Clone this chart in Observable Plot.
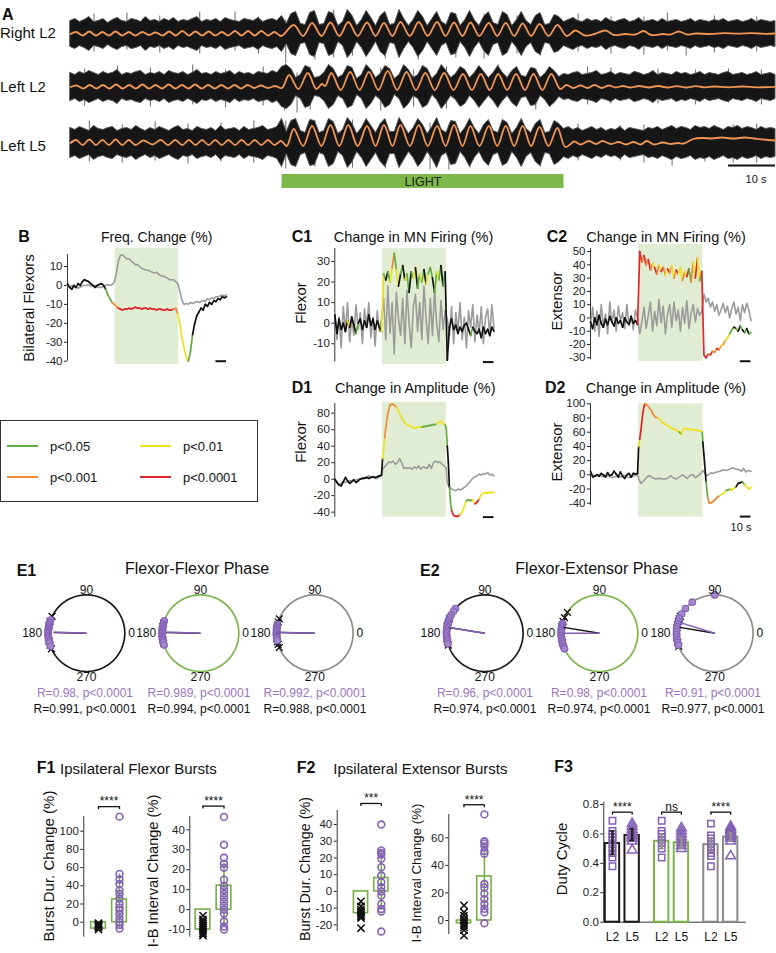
<!DOCTYPE html>
<html><head><meta charset="utf-8">
<script src="https://cdn.jsdelivr.net/npm/d3@7"></script>
<script src="https://cdn.jsdelivr.net/npm/@observablehq/plot@0.6"></script>
<style>
body{margin:0;background:#fff;font-family:"Liberation Sans",Arial,sans-serif;}
#fig{position:relative;width:776px;height:953px;overflow:hidden;background:#fff;}
</style></head>
<body><div id="fig"></div>
<script>
// ---------------- DATA ----------------
const LIGHT = [45, 105];                // light-on interval (s)
const SIG_KEYS = ["n","a","b","c","d"];  // ns, p<0.05, p<0.01, p<0.001, p<0.0001
const SIG_COLORS = ["#111111","#5fad3e","#efe11f","#f08b3a","#e2262b"];
const SIG_LABELS = ["p<0.05","p<0.01","p<0.001","p<0.0001"];
const TRACE_NAMES = ["Right L2","Left L2","Left L5"];

// Panel A: EMG envelope half-widths (1 s samples) and filtered rhythm extrema [t, value]
const rightL2Env = [13,15,12,14,17,12,13,15,11,14,16,13,12,15,14,12,17,13,14,12,15,13,16,12,14,13,15,17,12,14,13,15,12,16,14,13,12,15,14,13,16,12,14,15,13,
 18,
 10,20,22,10,9,21,23,9,10,22,20,8,12,24,18,8,14,23,16,8,18,22,9,10,24,15,8,14,23,17,8,15,22,12,9,21,20,8,14,23,14,8,17,22,11,9,22,19,8,14,22,13,9,18,21,9,10,19,17,
 12,14,16,13,12,15,13,14,12,16,13,12,14,15,12,13,16,12,13,14,12,15,12,13,14,12,13,15,12,14,13,12,14,13,15,12,13,14,12,13,15,12,14,13,12,13];
const leftL2Env = [14,12,15,13,16,14,12,15,13,14,17,12,14,13,15,16,12,14,13,15,12,16,14,13,15,12,14,17,13,14,12,15,13,14,16,12,15,13,14,12,15,14,13,16,14,
 20,
 22,18,9,12,21,19,9,10,14,22,18,9,12,21,19,8,12,22,17,9,13,21,18,8,12,22,17,9,12,21,18,8,13,22,16,9,13,20,17,9,14,21,15,9,14,21,14,9,16,20,11,10,19,18,9,13,20,16,10,
 13,12,14,15,12,13,14,16,12,13,15,12,14,13,12,15,14,12,13,16,12,14,13,12,15,13,14,12,13,15,12,14,13,12,14,15,12,13,14,12,13,15,12,13,14,12];
const leftL5Env = [15,13,16,14,12,17,14,13,15,16,12,14,15,13,17,14,12,15,13,16,14,12,15,17,13,14,12,16,14,13,15,12,17,13,14,15,12,16,13,14,15,17,13,14,16,
 24,
 11,22,24,12,10,23,22,10,12,24,21,9,13,25,19,9,15,24,17,10,19,24,11,11,25,17,9,15,24,18,9,16,25,13,10,22,21,9,15,24,15,9,18,23,12,10,23,20,9,15,24,14,10,19,23,10,11,22,19,
 14,16,13,15,12,14,16,13,15,12,14,13,16,12,15,14,13,12,15,14,16,13,15,17,14,16,15,13,17,15,16,14,17,15,13,16,15,17,14,16,15,13,16,14,15,14];
// tall single spikes [t, low, high]
const rightL2Spikes = [[5,-18,20],[12,-16,21],[19,-19,18],[27.5,-20,22],[35,-17,22],[40,-20,17],[45.8,-30,14],[52,-26,20],[56,-24,24],[60,-22,16],[67,-25,21],[74,-26,22],[82,-24,19],[88,-25,20],[95,-20,18],[100,-22,19],[108,-18,20],[115,-20,17],[122,-21,17],[127,-17,21],[131,-22,13],[137,-19,18],[146,-18,17]];
const leftL2Spikes = [[3,-19,18],[10,-17,21],[17,-20,19],[26,-18,22],[33,-21,17],[41,-19,20],[45.5,-24,20],[48.2,-26,14],[51,-23,20],[59,-22,21],[66,-24,19],[73,-20,17],[80,-22,20],[91,-21,22],[99,-23,18],[110,-18,20],[115,-17,19],[125,-17,18],[133,-18,17],[140,-16,18],[147,-18,17]];
const leftL5Spikes = [[4,-19,22],[11,-20,18],[18,-18,21],[25,-21,19],[32,-19,20],[39,-20,22],[45.8,-26,22],[52,-24,22],[60,-25,23],[67,-26,22],[76.5,-27,20],[80.5,-27,18],[85,-25,21],[92,-20,21],[100,-24,22],[108,-18,19],[117,-18,17],[122,-20,18],[128,-23,16],[135,-19,15],[141,-20,18],[146,-20,19]];
const rightL2Rhythm = [[0,0],[1.2,2],[2.6,-1.5],[4,2.5],[5.4,-1.5],[6.8,2],[8.2,-1.5],[9.6,2.5],[11,-1.5],[12.4,2],[13.8,-1.5],[15.3,2],[16.7,-1],[18.1,1.5],[19.6,-1.5],[21,2.5],[22.4,-1.5],[23.8,3],[25.2,-1.5],[26.6,2.5],[28,-1.5],[29.4,2.5],[30.8,-1.5],[32.2,2],[33.6,-1.5],[35,3],[36.4,-1.5],[37.8,3],[39.2,-1.5],[40.6,3],[42,-1.5],[43.4,2],[44.8,-2],
 [47.5,9],[49.5,-2],[51.4,11],[53.4,-2],[55.3,11.5],[57.2,-2],[59.1,12],[61.1,-2],[63.1,11.5],[64.9,-2],[66.7,11],[68.5,-2],[70.2,12],[72.2,-2],[74.1,12],[76,-2],[78,12],[79.8,-2],[81.6,11.5],[83.4,-2],[85.1,11.5],[87,-2],[89,11],[90.8,-2],[92.6,11],[94.4,-2],[96.2,10.5],[98,-2],[99.8,10],[101.7,-2],[103.6,9],
 [105.6,-2],[107.4,3.5],[109.5,-1.5],[111.5,0],[113.8,3.5],[115.7,-1],[118,0],[120.2,-0.5],[121.9,3],[123.6,-1],[126,0],[127.7,-0.5],[129.4,2.5],[131.2,-0.5],[133,0.5],[136,0],[139,0.8],[142,0.3],[145,0.8],[148,0.2],[150,0.5]];
const leftL2Rhythm = [[0,0],[1.3,1.5],[2.7,-1.5],[4.1,2],[5.5,-1.5],[6.9,2],[8.3,-1.5],[9.7,2.5],[11.1,-1.5],[12.5,2],[13.9,-1.5],[15.3,2.5],[16.7,-1.5],[18.1,2],[19.5,-1.5],[20.9,2.5],[22.3,-1.5],[23.7,2],[25.1,-1.5],[26.5,2.5],[27.9,-1.5],[29.3,2],[30.7,-1.5],[32.1,2],[33.5,-1.5],[34.9,2],[36.3,-1.5],[37.7,2],[39.1,-1],[40.5,1.5],[42,-1],[43.5,1],[45,-1],
 [46.5,12],[48.5,-2],[50.5,14],[52.3,-2],[53.5,3],[54.2,1],[55.5,14],[57.5,-3],[59.5,15],[61.5,-3],[63.5,15],[65.5,-3],[67.5,16],[69.5,-3],[71.5,15],[73.5,-3],[75.5,14],[77.5,-3],[79.5,14],[81.5,-3],[83.5,13],[85.4,-3],[87.3,13],[89.2,-3],[91,13],[92.9,-3],[94.8,13],[96.7,-3],[98.5,13],[100.4,-3],[102.3,13],[104.2,-2],
 [105.5,2],[107,-1],[108.5,1.5],[110,-1],[111.5,2],[113,-1],[114.5,1.5],[116,-0.5],[117.5,1],[119,-0.5],[121,1],[123,-0.5],[125,1],[127,-0.5],[129,0.8],[131,-0.5],[133,0.8],[135,-0.3],[137,0.5],[140,-0.3],[143,0.5],[146,-0.3],[150,0.2]];
const leftL5Rhythm = [[0,0],[1.2,3],[2.6,-2],[4,3.5],[5.4,-2],[6.8,3],[8.2,-2],[9.6,3.5],[11,-2],[12.4,3],[13.8,-2],[15.5,2.5],[17.5,-1.5],[19.2,3],[20.8,-2],[22.3,3],[23.8,-2],[25.2,3],[26.6,-2],[28,3],[29.4,-2],[30.8,3],[32.2,-2],[33.6,3],[35,-2],[36.4,3],[37.8,-2],[39.2,3],[40.6,-2],[42,3],[43.4,-2],[44.8,2],
 [46,-3],[47.5,14],[49.5,-3],[51.4,17],[53.4,-3],[55.3,18],[57.2,-3],[59.1,18],[61.1,-3],[63.1,17],[64.9,-3],[66.7,18],[68.5,-3],[70.2,18],[72.2,-3],[74.1,18],[76,-3],[78,17],[79.8,-3],[81.6,18],[83.4,-3],[85.1,17],[87,-3],[89,17],[90.8,-3],[92.6,17],[94.4,-3],[96.2,17],[98,-3],[99.8,16],[101.7,-3],[103.6,15],
 [105.3,-4],[107.2,1.5],[108.5,-1.5],[110.3,2],[111.8,-1],[113.2,2],[115,-1],[116.6,1],[118.2,-1.5],[119.8,1],[121.3,-1.5],[122.6,2],[124.2,-1.5],[126,0.5],[127.8,-1],[129.2,0],[130.5,-0.5],[132.5,4],[134.5,5],[136.5,4.5],[138.5,5.5],[141,4.5],[143.5,5.5],[145.5,4.5],[147.5,3.5],[150,2.5]];

// Panels B, C: 2-s samples
const T2 = d3.range(0, 151, 2);
const bBlack = [1,-1,-2,0,-1,1,0,2,3,2.5,2,1,0,-1,0,0.5,1,0,-2,-5,-7,-9,-10,-11,-12,-12.5,-13,-12.5,-12.5,-12,-12.5,-12,-11.5,-12,-12,-12.5,-12,-12,-12.5,-12,-12.5,-12.5,-13,-12.5,-12.5,-13,-13,-12.5,-13,-13,-12.5,-12,-15,-20,-28,-33,-38,-40,-35,-26,-20,-16,-14,-12,-13,-10,-11,-9,-10,-8,-8.5,-7,-7.5,-6,-6.5,-6];
const bSig = "nnnnnnnnnnnnnnnnnnnaaacccddddddddddddddddddddddddddccbbbbbaannnnnnnnnnnnnnnn";
const bGray = [0,-1,0,-1,-1,-1.5,-1,0,0,0,0.5,-0.5,0,0,-1,-1,-1,-0.5,0,0.5,0,0.5,1.5,6,13,16,16,15,14,14,13,12,11,11,10,9,8.5,8,8,7.5,7,6.5,7,6,5,5,4.5,4,3,3,3,2,1,-3,-8,-10,-9.5,-10,-9,-9.5,-9,-8.5,-9,-8.5,-8,-8.5,-7,-7.5,-6.5,-7,-6,-6,-5.5,-5,-5.5,-5];
const c1Black = [4,-5,2,-3,0,-4,1,-2,3,-1,-5,0,2,-3,1,-2,4,-1,2,-3,1,-2,-4,
 24,21,25,20,27,34,26,18,24,28,21,24,15,25,22,27,17,24,20,26,19,24,27,22,15,25,21,28,18,25,
 -18,-2,2,-3,-1,-5,-2,-4,-1,0,-3,-6,-2,-4,-5,-3,-7,-2,-5,-3,-6,-2,-4];
const c1Sig = "nnnnnnnbnnnannnnnnnnnnn" + "banabcabnanbanabnabanbaanabana" + "nnnnnnnnnnnnannnnnnnnnn";
const c1Gray = [5,-8,3,-12,8,-4,10,-9,2,-6,9,-3,5,-10,7,-2,10,-7,3,-11,6,-4,2,
 12,-8,18,-5,10,-15,15,2,-6,12,-10,16,0,-12,8,14,-4,10,-8,18,2,-10,12,-6,16,0,-9,11,-3,6,
 2,-6,8,-10,5,-4,10,-8,3,-12,6,-2,9,-9,4,-5,8,-10,3,7,-6,9,-3];
const c2Black = [-3,-8,0,-5,2,-4,-7,-1,-5,1,-3,-6,0,-4,-2,-7,0,-3,-5,1,-4,-2,-5,
 50,42,47,40,44,36,41,38,33,40,35,38,32,37,34,39,30,36,33,38,28,35,31,37,27,42,30,45,28,35,
 -28,-30,-27,-28,-25,-26,-23,-24,-21,-20,-17,-15,-12,-9,-7,-8,-10,-6,-9,-11,-8,-12,-11];
const c2Sig = "nnnnnnnnnnnnnnnnnnnnnnn" + "ddcdcdcbdcbdcbdcbcdbbcbdacbdba" + "dddcdccdcbcbbaananananaa".slice(0, 23);
const c2Gray = [-5,8,-10,5,-14,10,-6,3,-12,12,-4,6,-10,9,-2,4,-8,10,-5,2,-9,6,0,
 -12,-3,8,-8,2,12,-10,5,-6,14,-4,9,-12,3,10,-7,12,-2,6,-10,8,-4,13,-8,4,10,-3,7,2,5,
 18,12,15,8,12,5,10,2,6,11,4,9,0,7,12,3,8,-2,10,4,11,6,-2];

// Panel D: [t, value, significance]
const d1Black = [[0,0,"n"],[2,-4,"n"],[4,-7,"n"],[6,-8,"n"],[8,-3,"n"],[10,2,"n"],[12,-2,"n"],[14,-5,"n"],[16,-3,"n"],[18,-1,"n"],[20,-4,"n"],[22,-2,"n"],[24,0,"n"],[26,1,"n"],[28,1,"n"],[30,2,"n"],[32,1,"n"],[34,2,"n"],[36,3,"n"],[38,2,"n"],[40,3,"n"],[42,4,"n"],[44,5,"n"],
 [45,25,"n"],[46,35,"b"],[47,50,"b"],[48,62,"c"],[50,80,"c"],[52,90,"c"],[54,91,"c"],[56,90,"c"],[58,87,"c"],[60,82,"b"],[62,77,"b"],[64,72,"b"],[66,68,"b"],[68,66,"b"],[70,65,"b"],[72,64,"b"],[74,62,"b"],[76,62,"b"],[78,63,"b"],[80,63,"b"],[82,63,"b"],[84,64,"a"],[86,64,"a"],[88,65,"a"],[90,65,"a"],[92,66,"a"],[94,66,"a"],[96,67,"a"],[98,69,"b"],[100,70,"b"],[102,67,"b"],[104,66,"b"],
 [105,62,"a"],[106,40,"a"],[107,20,"n"],[108,-10,"n"],[109,-28,"a"],[110,-38,"a"],[112,-44,"d"],[114,-45,"d"],[116,-45,"d"],[118,-43,"d"],[120,-40,"b"],[122,-33,"b"],[124,-26,"b"],[126,-25,"a"],[128,-26,"a"],[130,-25,"a"],[132,-30,"b"],[134,-28,"d"],[136,-24,"d"],[138,-19,"b"],[140,-17,"b"],[142,-16,"b"],[144,-17,"b"],[146,-16,"b"],[148,-16,"b"],[150,-16,"b"]];
const d1Gray = [[0,0],[2,-3],[4,-7],[6,-5],[8,-3],[10,-4],[12,-3],[14,-2],[16,-2],[18,-1],[20,-1],[22,0],[24,0],[26,1],[28,2],[30,3],[32,4],[34,3],[36,2],[38,1],[40,1],[42,3],[44,4],[45,12],[47,15],[49,18],[51,21],[53,20],[55,22],[57,18],[59,20],[61,25],[63,20],[65,13],[67,14],[69,13],[71,14],[73,12],[75,15],[77,13],[79,16],[81,12],[83,15],[85,14],[87,13],[89,18],[91,13],[93,20],[95,22],[97,20],[99,21],[101,18],[103,16],[105,14],[106,-5],[108,-10],[110,-12],[112,-13],[114,-14],[116,-12],[118,-13],[120,-12],[122,-10],[124,-8],[126,-5],[128,-2],[130,1],[132,3],[134,4],[136,6],[138,5],[140,7],[142,6],[144,8],[146,5],[148,6],[150,4]];
const d2Black = [[0,5,"n"],[2,-3,"n"],[4,-2,"n"],[6,0,"n"],[8,-2,"n"],[10,2,"n"],[12,0,"n"],[14,-3,"n"],[16,3,"n"],[18,-1,"n"],[20,0,"n"],[22,5,"n"],[24,1,"n"],[26,-3,"n"],[28,4,"n"],[30,-2,"n"],[32,-5,"n"],[34,0,"n"],[36,2,"n"],[38,-3,"n"],[40,2,"n"],[42,1,"n"],[44,2,"n"],
 [45,40,"n"],[46,50,"b"],[47,62,"d"],[48,75,"d"],[49,88,"d"],[50,96,"d"],[51,100,"d"],[53,98,"c"],[55,94,"c"],[57,90,"c"],[59,84,"c"],[61,81,"c"],[63,80,"c"],[65,78,"b"],[67,74,"b"],[69,72,"b"],[71,70,"b"],[73,68,"b"],[75,66,"b"],[77,65,"b"],[79,64,"b"],[81,62,"b"],[83,60,"b"],[85,57,"a"],[87,65,"b"],[89,65,"b"],[91,64,"b"],[93,64,"b"],[95,64,"b"],[97,63,"b"],[99,63,"b"],[101,62,"b"],[103,62,"b"],[104.5,60,"b"],
 [105,46,"a"],[106,28,"n"],[108,-10,"n"],[109.5,-32,"a"],[111,-40,"c"],[113,-39,"c"],[115,-37,"c"],[117,-34,"c"],[119,-31,"c"],[121,-29,"c"],[123,-27,"b"],[125,-25,"b"],[127,-22,"b"],[129,-21,"a"],[131,-20,"a"],[132,-22,"b"],[134,-19,"b"],[136,-17,"b"],[138,-12,"n"],[140,-11,"n"],[142,-10,"n"],[144,-14,"a"],[146,-17,"b"],[148,-20,"b"],[150,-18,"b"]];
const d2Gray = [[0,2],[4,-2],[8,0],[12,-3],[16,-1],[20,-4],[24,-2],[28,-3],[32,-1],[36,-4],[40,-2],[44,0],[45,-5],[47,-12],[50,-8],[52,-4],[55,-1],[58,-4],[61,-6],[64,-5],[67,-6],[70,-6],[73,-4],[75,-1],[77,-4],[80,-6],[83,-3],[86,0],[88,-2],[90,-5],[93,-1],[96,0],[98,-4],[101,-1],[103,2],[105,6],[107,2],[109,-1],[111,1],[113,3],[115,2],[118,4],[121,5],[124,7],[127,6],[130,8],[133,10],[136,8],[139,7],[141,5],[143,9],[145,4],[147,6],[150,5]];

// Panel E: phase angles (deg) per circle, mean vectors [angle, length]
const e1Purple = [[160,164,167,169,171,173,175,177,179,181,183,185,187,189,192,195,200],[161,166,169,171,173,175,177,179,181,183,185,187,189,191,194,198],[167,170,172,174,176,178,180,182,184,186,188,191]];
const e1Black = [[154,162,168,174,180,186,192,198,204],[165,170,175,180,185,190,195],[158,163,168,173,178,183,188,193,197,202]];
const e1PurpleVec = [[178,0.86],[178,0.9],[178.5,0.98]];
const e1BlackVec = [[179,0.86],[179,0.9],[179,0.97]];
const e2Purple = [[140,145,152,156,160,163,166,169,172,175,178,181,184,187,190,193,196],[165,168,171,174,177,180,183,186,189,192,195,198,201,204],[90,126,140,150,158,162,166,170,174,178,182,186,190,194,198]];
const e2Black = [[158,163,170,176,182,188,194,198],[147,156,162,170,178,186,194],[154,158,162,167,172,178,186,194,200]];
const e2PurpleVec = [[171,0.96],[180,0.95],[163,0.9]];
const e2BlackVec = [[171,0.95],[170.7,0.95],[170.5,0.93]];
const DEG_LABELS = [0,90,180,270];
const e1StatsPurple = ["R=0.98, p<0.0001","R=0.989, p<0.0001","R=0.992, p<0.0001"];
const e1StatsBlack = ["R=0.991, p<0.0001","R=0.994, p<0.0001","R=0.988, p<0.0001"];
const e2StatsPurple = ["R=0.96, p<0.0001","R=0.98, p<0.0001","R=0.91, p<0.0001"];
const e2StatsBlack = ["R=0.974, p<0.0001","R=0.974, p<0.0001","R=0.977, p<0.0001"];

// Panel F
const f1DurCtrl = [-1,-3,-4,-5,-6,-2,-8,-4];
const f1DurLight = [116,53,47,42,35,31,26,20,16,13,9,4,0,-3,-7];
const f1DurBox = [[-7,0,-8,1],[0,25,-7,53]];   // [boxLo, boxHi, whiskerLo, whiskerHi]
const f1IbiCtrl = [-6,-7,-8,-9,-10,-11,-12,-13,-5,-3];
const f1IbiLight = [46.5,32.5,26,23,21,15,12,10,8,6,4,2,0,-2,-6,-8.5,-10];
const f1IbiBox = [[-10,0,-13.5,-5],[0,12,-9,23]];
const f2DurCtrl = [-6,-9,-11,-12,-13,-14,-15,-16,-22];
const f2DurLight = [40,24.5,23,22,19.5,14.5,9.5,5.5,2.5,0,-2.5,-7.5,-10.5,-12,-24];
const f2DurBox = [[-13,0,-16,-6],[0,8,-11.5,24.5]];
const f2IbiCtrl = [11,6,3.5,1,0,-2,-3.5,-5,-7,-11];
const f2IbiLight = [77,57.5,56,54,50.5,48.5,26.5,24,19.5,15.5,12,8.5,6,-2];
const f2IbiBox = [[-2,0,-8.5,5],[0,32,7,55]];
const f3Bars = [0.535,0.59,0.55,0.54,0.527,0.578];
const f3BarLabels = ["L2","L5","L2","L5","L2","L5"];
const f3Err = [[0.46,0.62],[0.555,0.635],[0.5,0.6],[0.5,0.58],[0.48,0.57],[0.55,0.61]];
const f3Points = [[0.69,0.62,0.6,0.58,0.56,0.53,0.5,0.47,0.44,0.38],[0.67,0.65,0.63,0.61,0.6,0.59,0.58,0.57,0.55,0.49],[0.69,0.62,0.6,0.58,0.56,0.54,0.5,0.44],[0.64,0.62,0.6,0.58,0.56,0.54,0.52,0.5],[0.67,0.59,0.57,0.55,0.53,0.51,0.49,0.47,0.45,0.38],[0.65,0.64,0.63,0.62,0.61,0.6,0.59,0.58,0.57,0.55,0.45]];
const f3Sig = ["****","ns","****"];

// ---------------- STYLE ----------------
const W = 776, H = 953;
const FONT = "Liberation Sans, Arial, sans-serif";
const SHADE = "#e0edd3", GRAYLINE = "#9b9b9b", ORANGE = "#ef9654";
const PURPLE = "#8461b6", PURPLE_FILL = "#a287cc", PURPLE_TEXT = "#9676c2";
const GREEN = "#74b043", LIGHTBAR = "#7cb84a";
const RING = ["#1a1a1a", "#7ab648", "#8a8a8a"];
const fig = document.getElementById("fig");

function frame(x0, x1, y0, y1) {
  return {width: W, height: H, marginLeft: x0, marginRight: W - x1, marginTop: y0, marginBottom: H - y1};
}
function add(opts) {
  const svg = Plot.plot({...opts, style: {position: "absolute", left: "0px", top: "0px", background: "transparent", overflow: "visible", fontFamily: FONT, fontSize: "11.5px", color: "#222", maxWidth: "none"}});
  fig.appendChild(svg);
}
function T(s, x, y, o = {}) {
  const d = document.createElement("div");
  d.textContent = s;
  d.style.cssText = `position:absolute;left:${x}px;top:${y}px;font-size:${o.size || 14}px;line-height:1;white-space:nowrap;color:${o.color || "#111"};font-weight:${o.bold ? "bold" : "normal"};font-family:${o.font || FONT};`;
  d.style.transform = o.rot ? "translate(-50%,-50%) rotate(-90deg)"
    : o.anchor === "middle" ? "translate(-50%,-50%)" : o.anchor === "end" ? "translate(-100%,-50%)" : "translate(0,-50%)";
  fig.appendChild(d);
}
function segs(pts) {
  const out = [];
  for (let i = 1; i < pts.length; i++) out.push({t1: pts[i-1].t, v1: pts[i-1].v, t2: pts[i].t, v2: pts[i].v, s: pts[i].s});
  return out;
}
const fromArr = (vals, sig) => vals.map((v, i) => ({t: T2[i], v, s: sig ? sig[i] : "n"}));
const fromTup = tup => tup.map(d => ({t: d[0], v: d[1], s: d[2] || "n"}));

// ---------------- PANEL A ----------------
function trace(cy, env, rhythm, spikes, extra = []) {
  add({
    ...frame(70, 775, cy - 32, cy + 32),
    x: {domain: [0, 150], axis: null}, y: {domain: [-32, 32], axis: null},
    marks: [
      Plot.ruleX(spikes, {x: d => d[0], y1: d => d[1], y2: d => d[2], stroke: "#6a6a6a", strokeWidth: 1}),
      Plot.areaY(env.map((h, i) => ({t: i, h})), {x: "t", y1: d => -d.h, y2: d => d.h, fill: "#161616", stroke: "#555", strokeWidth: 1}),
      Plot.line(rhythm, {x: d => d[0], y: d => d[1], stroke: ORANGE, strokeWidth: 1.8, curve: "catmull-rom"}),
      ...extra
    ]
  });
}
trace(33.5, rightL2Env, rightL2Rhythm, rightL2Spikes);
trace(86.5, leftL2Env, leftL2Rhythm, leftL2Spikes);
trace(142.5, leftL5Env, leftL5Rhythm, leftL5Spikes, [Plot.ruleY([-22.5], {x1: 140, x2: 150, stroke: "#111", strokeWidth: 2})]);
add({
  ...frame(70, 775, 174, 188),
  x: {domain: [0, 150], axis: null}, y: {axis: null},
  marks: [
    Plot.rect([LIGHT], {x1: d => d[0], x2: d => d[1], fill: LIGHTBAR}),
    Plot.text([LIGHT], {x: d => (d[0] + d[1]) / 2, frameAnchor: "middle", text: () => "LIGHT", fontSize: 12.5, fill: "#1b1b1b"})
  ]
});
T("A", 2, 14.5, {size: 16, bold: true});
T(TRACE_NAMES[0], 0, 31.7, {size: 15});
T(TRACE_NAMES[1], 0, 86.3, {size: 15});
T(TRACE_NAMES[2], 0, 144.5, {size: 15});
T("10 s", 756, 179, {size: 11, anchor: "middle"});

// ---------------- PANELS B, C, D ----------------
function timePanel({x0, x1, y0, y1, dom, ticks, axis, black, gray, barY}) {
  add({
    ...frame(x0, x1, y0, y1),
    x: {domain: [0, 150], axis: null},
    y: {domain: dom, ticks, tickSize: 3, tickPadding: 2, label: null, tickFormat: d => String(d)},
    color: {domain: SIG_KEYS, range: SIG_COLORS},
    marks: [
      Plot.rect([LIGHT], {x1: d => d[0], x2: d => d[1], fill: SHADE}),
      Plot.ruleX([0], {y1: axis[0], y2: axis[1], stroke: "#333", strokeWidth: 1}),
      Plot.line(gray, {x: "t", y: "v", stroke: GRAYLINE, strokeWidth: 1.6}),
      Plot.link(segs(black), {x1: "t1", y1: "v1", x2: "t2", y2: "v2", stroke: "s", strokeWidth: 1.7, strokeLinecap: "round"}),
      Plot.ruleY([barY], {x1: 140, x2: 150, stroke: "#111", strokeWidth: 2})
    ]
  });
}
timePanel({x0: 67, x1: 226, y0: 247.7, y1: 364, dom: [-41.74, 19.66], ticks: [-40,-30,-20,-10,0,10], axis: [16.3, -40], black: fromArr(bBlack, bSig), gray: fromArr(bGray), barY: -40});
timePanel({x0: 334.3, x1: 493.5, y0: 248, y1: 364, dom: [-20.07, 36.3], ticks: [-10,0,10,20,30], axis: [36.3, -18.9], black: fromArr(c1Black, c1Sig), gray: fromArr(c1Gray), barY: -18.9});
timePanel({x0: 590, x1: 750.5, y0: 244, y1: 361, dom: [-32.8, 55.3], ticks: [-30,-20,-10,0,10,20,30,40,50], axis: [52.3, -31.3], black: fromArr(c2Black, c2Sig), gray: fromArr(c2Gray), barY: -32.6});
timePanel({x0: 334.3, x1: 493.5, y0: 401.7, y1: 516.7, dom: [-46.1, 93.3], ticks: [-40,-20,0,20,40,60,80], axis: [91.7, -46.1], black: fromTup(d1Black), gray: fromTup(d1Gray), barY: -46});
timePanel({x0: 590, x1: 750.5, y0: 403.3, y1: 516.7, dom: [-59.7, 100], ticks: [-40,-20,0,20,40,60,80,100], axis: [100, -43], black: fromTup(d2Black), gray: fromTup(d2Gray), barY: -58.8});

T("B", 18.3, 237, {size: 16, bold: true});
T("Freq. Change (%)", 156.7, 236.5, {size: 14, anchor: "middle"});
T("Bilateral Flexors", 27.5, 308, {size: 15, rot: true});
T("C1", 291.7, 236.7, {size: 16, bold: true});
T("Change in MN Firing (%)", 413.5, 237, {size: 14.5, anchor: "middle"});
T("Flexor", 299.5, 303.3, {size: 15, rot: true});
T("C2", 546.7, 236.7, {size: 16, bold: true});
T("Change in MN Firing (%)", 666, 237, {size: 14.5, anchor: "middle"});
T("Extensor", 556, 300.8, {size: 15, rot: true});
T("D1", 291.7, 387.7, {size: 16, bold: true});
T("Change in Amplitude (%)", 415.3, 387.7, {size: 14.5, anchor: "middle"});
T("Flexor", 299.7, 441.7, {size: 15, rot: true});
T("D2", 545, 388.3, {size: 16, bold: true});
T("Change in Amplitude (%)", 666, 388, {size: 14.5, anchor: "middle"});
T("Extensor", 555.5, 451.7, {size: 15, rot: true});
T("10 s", 741, 527, {size: 11, anchor: "middle"});

// legend
(function legend() {
  const box = document.createElement("div");
  box.style.cssText = "position:absolute;left:0px;top:420px;width:258px;height:82px;border:1.5px solid #333;box-sizing:border-box;";
  fig.appendChild(box);
  const pos = [[7, 446], [140, 446], [7, 477.3], [140, 477.3]];
  SIG_LABELS.forEach((lab, i) => {
    const sw = document.createElement("div");
    sw.style.cssText = `position:absolute;left:${pos[i][0]}px;top:${pos[i][1] - 1}px;width:31px;height:2px;background:${SIG_COLORS[i + 1]};`;
    fig.appendChild(sw);
    T(lab, pos[i][0] + 43, pos[i][1], {size: 13});
  });
})();

// ---------------- PANEL E ----------------
const P = (a, r = 1) => [r * Math.cos(a * Math.PI / 180), r * Math.sin(a * Math.PI / 180)];
function polar(cx, cy, ring, purple, black, pv, bv) {
  const r = 38.3;
  add({
    ...frame(cx - r, cx + r, cy - r, cy + r),
    x: {domain: [-1, 1], axis: null}, y: {domain: [-1, 1], axis: null},
    marks: [
      Plot.line(d3.range(0, 361, 3), {x: a => P(a)[0], y: a => P(a)[1], stroke: ring, strokeWidth: 1.7}),
      Plot.dot(black, {x: a => P(a)[0], y: a => P(a)[1], symbol: "times", r: 3.2, stroke: "#111", strokeWidth: 1.3}),
      Plot.dot(purple, {x: a => P(a)[0], y: a => P(a)[1], r: 3.3, fill: PURPLE_FILL, stroke: PURPLE, strokeWidth: 1.1}),
      Plot.link([bv], {x1: 0, y1: 0, x2: v => P(v[0], v[1])[0], y2: v => P(v[0], v[1])[1], stroke: "#111", strokeWidth: 1.4}),
      Plot.link([pv], {x1: 0, y1: 0, x2: v => P(v[0], v[1])[0], y2: v => P(v[0], v[1])[1], stroke: PURPLE, strokeWidth: 1.5}),
      Plot.text(DEG_LABELS.filter(a => a === 90), {x: a => P(a)[0], y: a => P(a)[1], text: String, dy: -5, fontSize: 12, fill: "#111"}),
      Plot.text(DEG_LABELS.filter(a => a === 270), {x: a => P(a)[0], y: a => P(a)[1], text: String, dy: 6, fontSize: 12, fill: "#111"}),
      Plot.text(DEG_LABELS.filter(a => a === 180), {x: a => P(a)[0], y: a => P(a)[1], text: String, dx: -6, textAnchor: "end", fontSize: 12, fill: "#111"}),
      Plot.text(DEG_LABELS.filter(a => a === 0), {x: a => P(a)[0], y: a => P(a)[1], text: String, dx: 3.5, textAnchor: "start", fontSize: 12, fill: "#111"})
    ]
  });
}
const E1X = [86, 200, 314.3], E2X = [484.3, 599, 714.3], EY = 632.7;
[0, 1, 2].forEach(i => {
  polar(E1X[i], EY, RING[i], e1Purple[i], e1Black[i], e1PurpleVec[i], e1BlackVec[i]);
  polar(E2X[i], EY, RING[i], e2Purple[i], e2Black[i], e2PurpleVec[i], e2BlackVec[i]);
});
const E1TX = [85, 199, 315], E2TX = [485, 599, 713];
[0, 1, 2].forEach(i => {
  T(e1StatsPurple[i], E1TX[i], 693.3, {size: 12, anchor: "middle", color: PURPLE_TEXT});
  T(e1StatsBlack[i], E1TX[i], 709, {size: 12, anchor: "middle"});
  T(e2StatsPurple[i], E2TX[i], 693.3, {size: 12, anchor: "middle", color: PURPLE_TEXT});
  T(e2StatsBlack[i], E2TX[i], 709, {size: 12, anchor: "middle"});
});
T("E1", 16.7, 570.8, {size: 16, bold: true});
T("Flexor-Flexor Phase", 197, 569.2, {size: 16, anchor: "middle"});
T("E2", 420, 570.8, {size: 16, bold: true});
T("Flexor-Extensor Phase", 596.7, 569.2, {size: 16, anchor: "middle"});

// ---------------- PANEL F ----------------
function boxPanel({ax, c0, c1, y0, y1, dom, ticks, ctrl, light, boxes, sig, sigY}) {
  const k = c1 - c0, d0 = (ax - c0) / k, d1 = 1.6;
  const ppu = (y1 - y0) / (dom[1] - dom[0]);
  const bx = boxes.map((b, i) => ({i, lo: b[0], hi: b[1], wlo: b[2], whi: b[3]}));
  add({
    ...frame(ax, c0 + d1 * k, y0, y1),
    x: {domain: [d0, d1], axis: null},
    y: {domain: dom, ticks, tickSize: 3, tickPadding: 2, label: null, tickFormat: d => String(d)},
    marks: [
      Plot.ruleX([d0], {y1: dom[0], y2: dom[1], stroke: "#333"}),
      Plot.rect(bx, {x1: d => d.i - 0.35, x2: d => d.i + 0.35, y1: "lo", y2: "hi", fill: "none", stroke: GREEN, strokeWidth: 1.6}),
      Plot.ruleX(bx, {x: "i", y1: "wlo", y2: "whi", stroke: GREEN, strokeWidth: 1.6}),
      Plot.dot(ctrl, {x: 0, y: d => d, symbol: "times", r: 3.4, stroke: "#111", strokeWidth: 1.6}),
      Plot.dot(light, {x: 1, y: d => d, r: 3.4, stroke: PURPLE, fill: "none", strokeWidth: 1.6}),
      Plot.ruleY([sigY], {x1: 0, x2: 1, stroke: "#111", strokeWidth: 1.3}),
      Plot.ruleX([0, 1], {y1: sigY, y2: sigY - 3 / ppu, stroke: "#111", strokeWidth: 1.3}),
      Plot.text([sig], {x: 0.5, y: sigY, text: d => d, dy: -5, fontSize: 12, fill: "#111"})
    ]
  });
}
boxPanel({ax: 83.3, c0: 98, c1: 119, y0: 816, y1: 936.7, dom: [-16.48, 116.15], ticks: [0,20,40,60,80,100], ctrl: f1DurCtrl, light: f1DurLight, boxes: f1DurBox, sig: "****", sigY: 127});
boxPanel({ax: 189.3, c0: 202.5, c1: 223.5, y0: 816, y1: 936.7, dom: [-13.84, 46.69], ticks: [-10,0,10,20,30,40], ctrl: f1IbiCtrl, light: f1IbiLight, boxes: f1IbiBox, sig: "****", sigY: 51.9});
boxPanel({ax: 336.7, c0: 360.5, c1: 380.8, y0: 810, y1: 931, dom: [-23.98, 48.39], ticks: [-20,-10,0,10,20,30,40], ctrl: f2DurCtrl, light: f2DurLight, boxes: f2DurBox, sig: "***", sigY: 52.6});
boxPanel({ax: 448.3, c0: 463.5, c1: 483.9, y0: 814, y1: 934, dom: [-10.16, 76.92], ticks: [0,20,40,60], ctrl: f2IbiCtrl, light: f2IbiLight, boxes: f2IbiBox, sig: "****", sigY: 84});

(function f3() {
  const pos = i => Math.floor(i / 2) * 2.5 + (i % 2);
  const bars = f3Bars.map((v, i) => ({p: pos(i), v, g: Math.floor(i / 2), lab: f3BarLabels[i], lo: f3Err[i][0], hi: f3Err[i][1]}));
  const pts = f3Points.flatMap((arr, i) => arr.map(v => ({p: pos(i), v, sq: i % 2 === 0})));
  const ERRC = ["#222", "#8f8f8f", "#8f8f8f"];
  const groups = f3Sig.map((s, g) => ({g, s, a: pos(2 * g), b: pos(2 * g + 1)}));
  const ppu = 147.1, sy = 0.748;
  add({
    ...frame(603.3, 745.7, 801.7, 921.7),
    x: {domain: [-0.44, 6.79], axis: null},
    y: {domain: [0, 0.8158], ticks: [0, 0.2, 0.4, 0.6, 0.8], tickSize: 3, tickPadding: 2, label: null, tickFormat: d3.format(".1f")},
    color: {type: "identity"},
    marks: [
      Plot.ruleX([-0.44], {y1: 0, y2: 0.8158, stroke: "#333"}),
      Plot.ruleY([0], {x1: -0.44, x2: 6.79, stroke: "#333"}),
      Plot.rect(bars, {x1: d => d.p - 0.365, x2: d => d.p + 0.365, y1: 0, y2: "v", fill: "white", stroke: d => RING[d.g], strokeWidth: 2}),
      Plot.dot(pts.filter(d => d.sq), {x: "p", y: "v", symbol: "square", r: 3.6, stroke: PURPLE, fill: "none", strokeWidth: 1.5}),
      Plot.dot(pts.filter(d => !d.sq), {x: "p", y: "v", symbol: "triangle", r: 3.6, stroke: PURPLE, fill: "none", strokeWidth: 1.5}),
      Plot.ruleX(bars, {x: "p", y1: "lo", y2: "hi", stroke: d => ERRC[d.g], strokeWidth: 2.5}),
      Plot.ruleY(bars, {y: "lo", x1: d => d.p - 0.12, x2: d => d.p + 0.12, stroke: d => ERRC[d.g], strokeWidth: 1.5}),
      Plot.ruleY(bars, {y: "hi", x1: d => d.p - 0.12, x2: d => d.p + 0.12, stroke: d => ERRC[d.g], strokeWidth: 1.5}),
      Plot.text(bars, {x: "p", y: 0, dy: 14.5, text: "lab", fontSize: 12, fill: "#111"}),
      Plot.ruleY(groups, {y: sy, x1: "a", x2: "b", stroke: "#111", strokeWidth: 1.3}),
      Plot.ruleX(groups, {x: "a", y1: sy, y2: sy - 3 / ppu, stroke: "#111", strokeWidth: 1.3}),
      Plot.ruleX(groups, {x: "b", y1: sy, y2: sy - 3 / ppu, stroke: "#111", strokeWidth: 1.3}),
      Plot.text(groups, {x: d => (d.a + d.b) / 2, y: sy, text: "s", dy: -5, fontSize: 12, fill: "#111"})
    ]
  });
})();

T("F1", 36.7, 767.5, {size: 16, bold: true});
T("Ipsilateral Flexor Bursts", 60, 767.5, {size: 15});
T("F2", 296.7, 767.5, {size: 16, bold: true});
T("Ipsilateral Extensor Bursts", 333.3, 767.5, {size: 15});
T("F3", 554.3, 766.7, {size: 16, bold: true});
T("Burst Dur. Change (%)", 48, 865.8, {size: 15, rot: true});
T("I-B Interval Change (%)", 152.5, 870.5, {size: 14.6, rot: true});
T("Burst Dur. Change (%)", 305, 869, {size: 14.3, rot: true});
T("I-B Interval Change (%)", 417, 872.5, {size: 13.3, rot: true});
T("Duty Cycle", 561.3, 859.2, {size: 15, rot: true});
</script>
</body></html>
